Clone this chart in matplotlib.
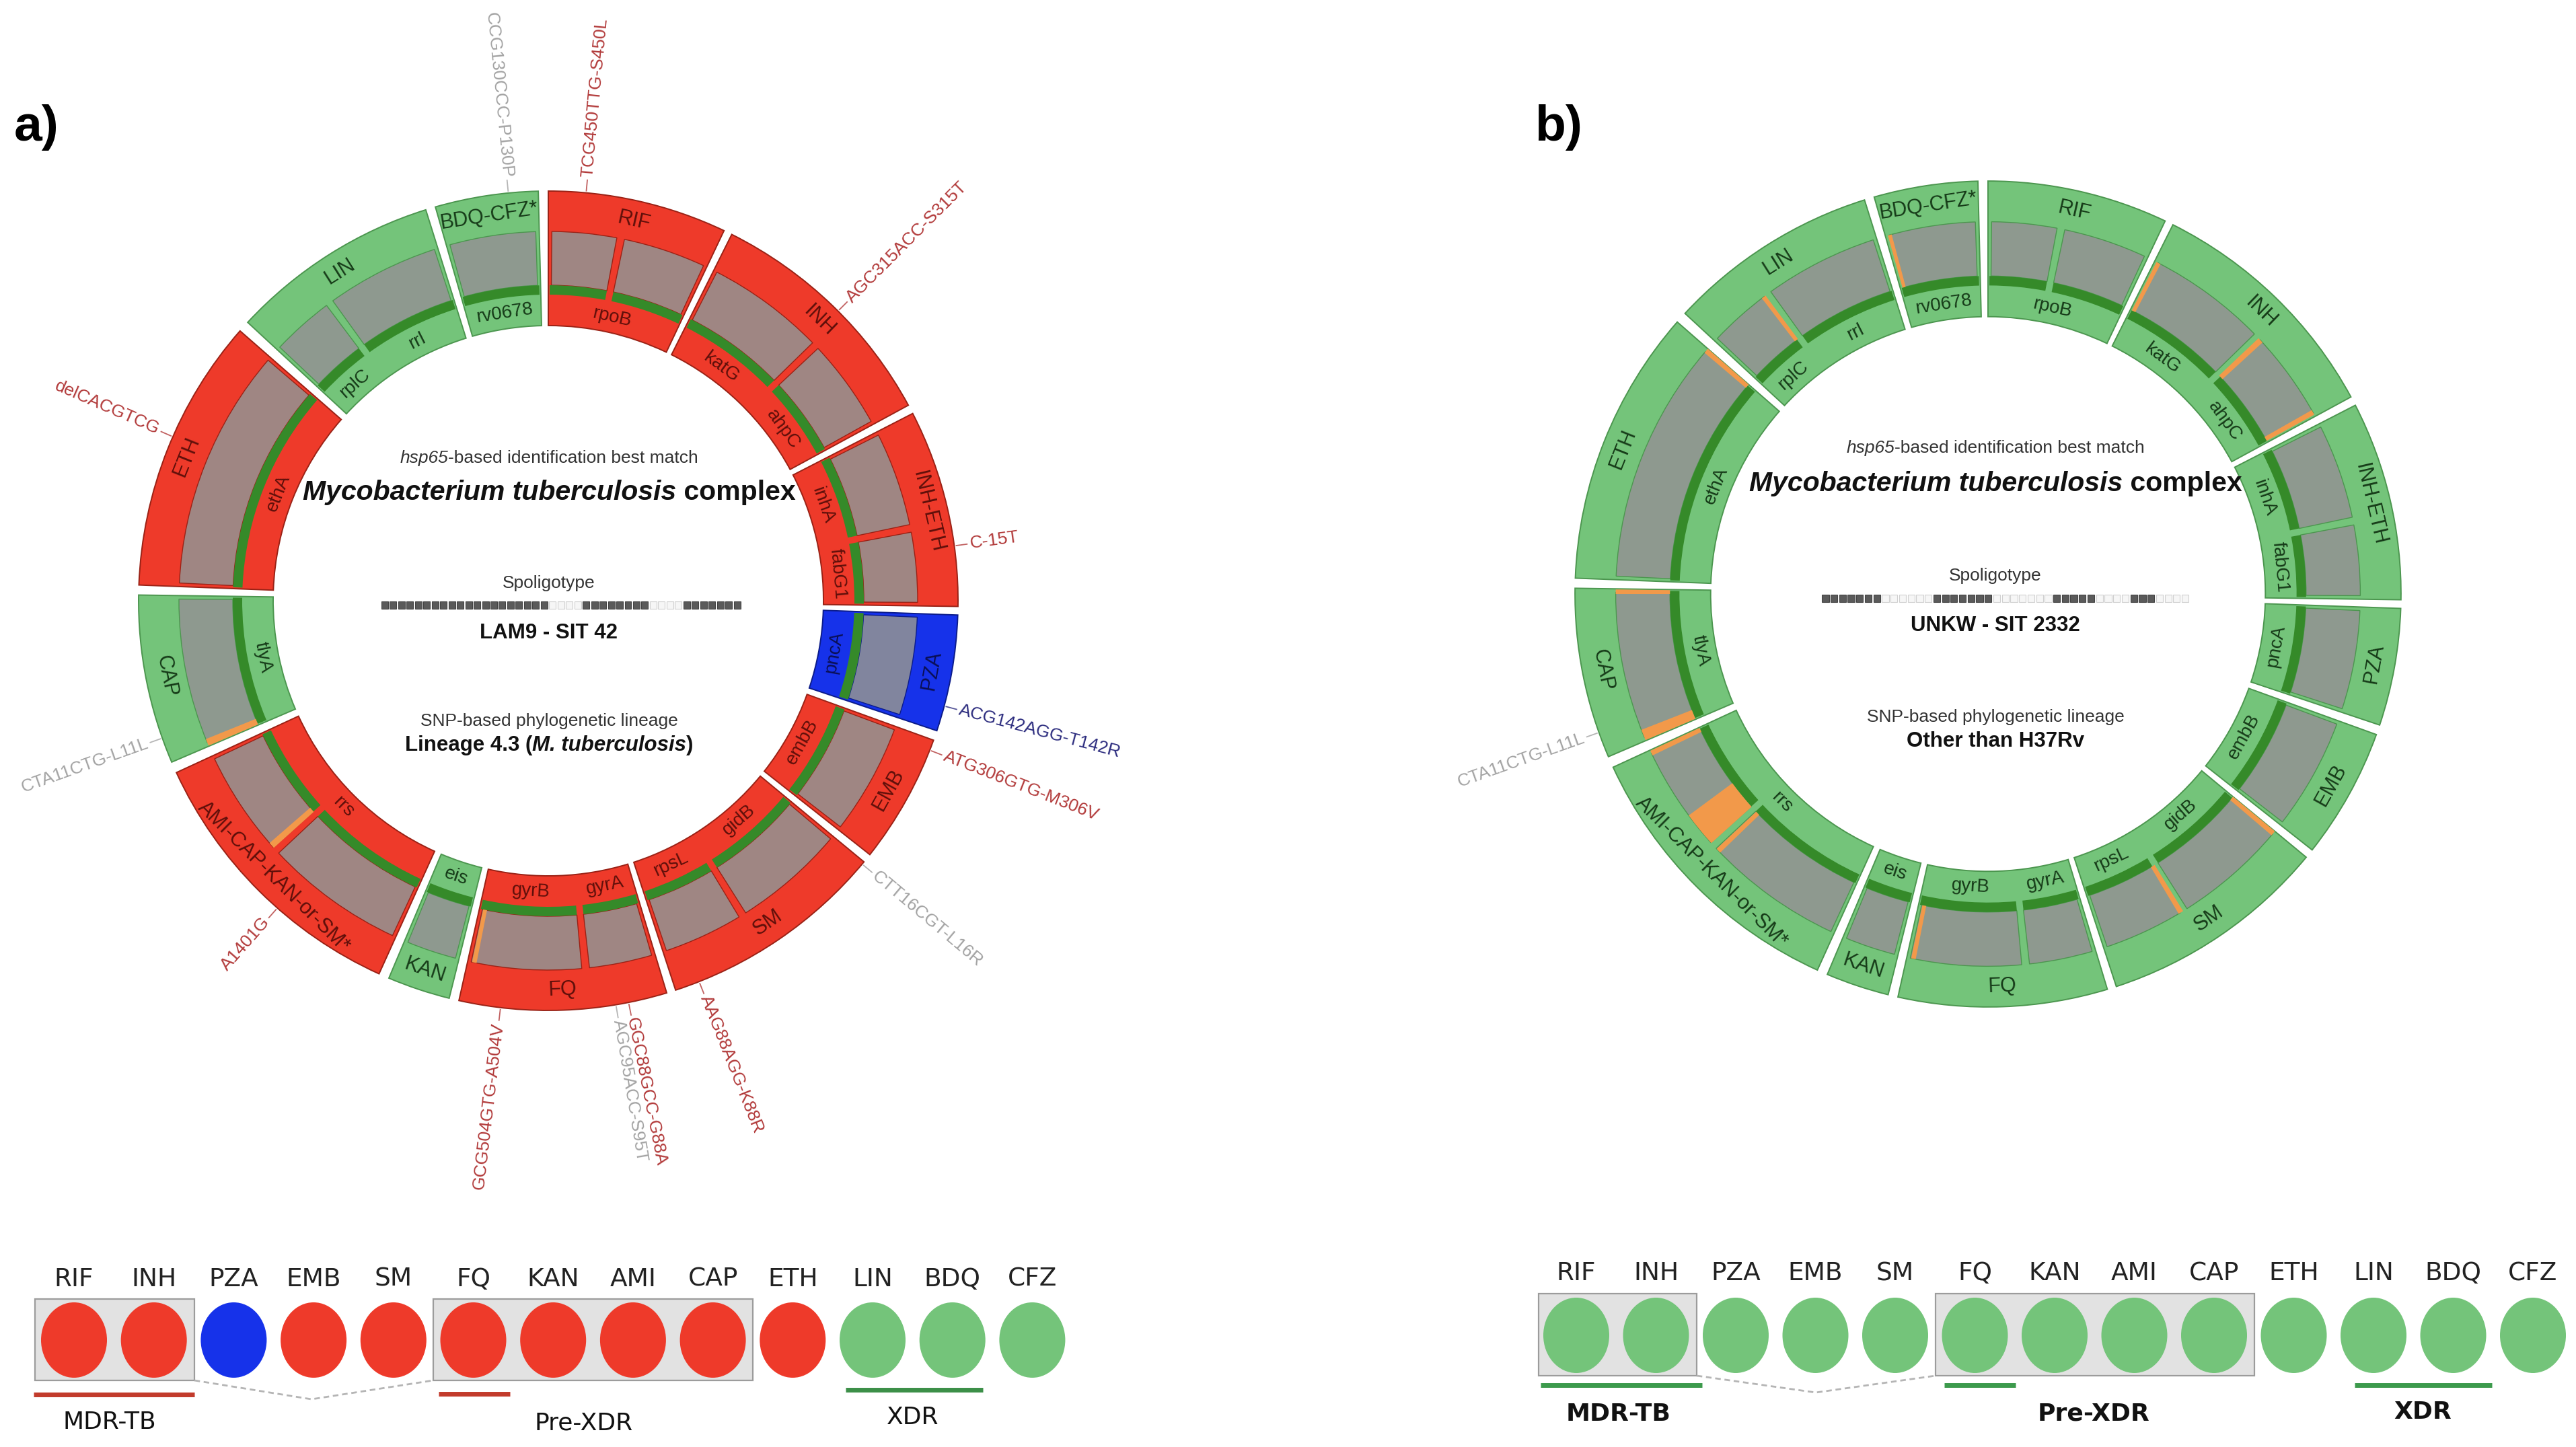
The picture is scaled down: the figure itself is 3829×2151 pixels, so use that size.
import numpy as np
import matplotlib
matplotlib.use("Agg")
import matplotlib.pyplot as plt
from matplotlib.patches import Wedge, Ellipse, Rectangle
from matplotlib.colors import to_rgb

W, H = 3830, 2151

RED = '#ee3a2a'
GREEN = '#74c47a'
BLUE = '#1632ea'
LINE_GREEN = '#358a29'
ORANGE = '#f2994a'
PALETTE = {'R': RED, 'G': GREEN, 'B': BLUE}
EDGE = {'R': '#9a2216', 'G': '#4c964f', 'B': '#0c1c8a'}
LABEL = {'R': '#5e0f0a', 'G': '#163a18', 'B': '#0a0f55'}

# ring segments, angles in degrees clockwise from 12 o'clock
drugs = ['RIF', 'INH', 'INH-ETH', 'PZA', 'EMB', 'SM', 'FQ', 'KAN',
         'AMI-CAP-KAN-or-SM*', 'CAP', 'ETH', 'LIN', 'BDQ-CFZ*']
drug_start = [0.0, 26.6, 62.8, 92.0, 109.9, 129.6, 163.2, 194.0, 204.4, 246.8, 272.2, 312.8, 344.0]
drug_end = [25.4, 61.5, 90.8, 108.5, 128.3, 161.9, 192.6, 202.9, 245.2, 270.8, 311.2, 342.6, 358.6]
genes = [['rpoB'], ['katG', 'ahpC'], ['inhA', 'fabG1'], ['pncA'], ['embB'], ['gidB', 'rpsL'],
         ['gyrA', 'gyrB'], ['eis'], ['rrs'], ['tlyA'], ['ethA'], ['rplC', 'rrl'], ['rv0678']]
splits = [[11.3], [46.3], [78.7], [], [], [148.3], [174.2], [], [227.5], [], [], [323.7], []]

status_a = ['R', 'R', 'R', 'B', 'R', 'R', 'R', 'G', 'R', 'G', 'R', 'G', 'G']
status_b = ['G'] * 13

orange_a = [(246.9, 248.0), (228.0, 229.0), (191.2, 191.9)]
orange_b = [(310.4, 311.2), (322.6, 323.3), (344.4, 345.0), (26.9, 27.6), (46.6, 47.5),
            (60.4, 61.2), (270.0, 270.7), (246.9, 248.6), (228.0, 233.5), (244.3, 245.1),
            (226.0, 226.8), (191.2, 191.9), (148.4, 149.2), (129.6, 130.4)]

mut_a = [(354.4, 'CCG130CCC-P130P', 'gray'), (5.3, 'TCG450TTG-S450L', 'red'),
         (45.0, 'AGC315ACC-S315T', 'red'), (82.3, 'C-15T', 'red'),
         (104.9, 'ACG142AGG-T142R', 'navy'), (111.4, 'ATG306GTG-M306V', 'red'),
         (130.0, 'CTT16CGT-L16R', 'gray'), (158.4, 'AAG88AGG-K88R', 'red'),
         (168.7, 'GGC88GCC-G88A', 'red'), (170.5, 'AGC95ACC-S95T', 'gray'),
         (186.7, 'GCG504GTG-A504V', 'red'), (221.4, 'A1401G', 'red'),
         (250.4, 'CTA11CTG-L11L', 'gray'), (293.6, 'delCACGTCG', 'red')]
mut_b = [(250.4, 'CTA11CTG-L11L', 'gray')]
MUT_COLOR = {'red': '#b23a3a', 'gray': '#a3a3a3', 'navy': '#2c2c7e'}

# spoligotype patterns (43 spacers)
spol_a = '1' * 20 + '0' * 4 + '1' * 8 + '0' * 4 + '1' * 7
spol_b = '1' * 7 + '0' * 6 + '1' * 7 + '0' * 7 + '1' * 5 + '0' * 4 + '1' * 3 + '0' * 4

# bottom legend
leg_names = ['RIF', 'INH', 'PZA', 'EMB', 'SM', 'FQ', 'KAN', 'AMI', 'CAP', 'ETH', 'LIN', 'BDQ', 'CFZ']
leg_a = ['R', 'R', 'B', 'R', 'R', 'R', 'R', 'R', 'R', 'R', 'G', 'G', 'G']
leg_b = ['G'] * 13

plt.rcParams['font.family'] = ['Liberation Sans', 'DejaVu Sans']

fig = plt.figure(figsize=(W / 100, H / 100), dpi=100)
ax = fig.add_axes([0, 0, 1, 1])
ax.set_xlim(0, W)
ax.set_ylim(H, 0)
ax.axis('off')


def blend(c1, c2, t):
    a = np.array(to_rgb(c1))
    b = np.array(to_rgb(c2))
    return tuple(a * (1 - t) + b * t)


def pol(cx, cy, r, th):
    t = np.radians(th)
    return cx + r * np.sin(t), cy - r * np.cos(t)


def sector(cx, cy, r_in, r_out, t1, t2, **kw):
    # y axis is inverted, so data angle th-90 runs clockwise from the top
    ax.add_patch(Wedge((cx, cy), r_out, t1 - 90, t2 - 90, width=r_out - r_in, **kw))


def tang_rot(th):
    th = th % 360
    return 180 - th if 90 < th < 270 else -th


def draw_ring(cx, cy, k, status, oranges, muts):
    R0, R1, R2, R3, R4 = [r * k for r in (609, 549, 469, 455, 409)]
    for i, name in enumerate(drugs):
        s, e = drug_start[i], drug_end[i]
        st = status[i]
        col = PALETTE[st]
        sector(cx, cy, R4, R0, s, e, fc=col, ec=EDGE[st], lw=1.4, zorder=2)
        cuts = [s] + splits[i] + [e]
        grey = blend('#929292', col, 0.14)
        for a, b in zip(cuts[:-1], cuts[1:]):
            pa = 0.55 if a == s else 0.6
            pb = 0.55 if b == e else 0.6
            sector(cx, cy, R2, R1, a + pa, b - pb, fc=grey, ec=EDGE[st], lw=1.0, zorder=3)
            sector(cx, cy, R3, R2, a + (0.25 if a == s else 0.6), b - (0.25 if b == e else 0.6),
                   fc=LINE_GREEN, ec='none', zorder=3)
        # drug label in the outer band
        mid = (s + e) / 2
        x, y = pol(cx, cy, (R0 + R1) / 2, mid)
        ax.text(x, y, name, fontsize=22, color=LABEL[st], rotation=tang_rot(mid),
                ha='center', va='center', rotation_mode='anchor', zorder=5)
        # gene labels in the inner band
        gcuts = [s] + (splits[i] if len(genes[i]) > 1 else []) + [e]
        for g, a, b in zip(genes[i], gcuts[:-1], gcuts[1:]):
            gm = (a + b) / 2
            x, y = pol(cx, cy, (R3 + R4) / 2, gm)
            ax.text(x, y, g, fontsize=20, color=LABEL[st], rotation=tang_rot(gm),
                    ha='center', va='center', rotation_mode='anchor', zorder=5)
    for a, b in oranges:
        sector(cx, cy, R2, R1, a, b, fc=ORANGE, ec='none', zorder=4)
    for th, txt, c in muts:
        x1, y1 = pol(cx, cy, R0 + 3, th)
        x2, y2 = pol(cx, cy, R0 + 19, th)
        ax.plot([x1, x2], [y1, y2], color=MUT_COLOR[c], lw=1.3, alpha=0.8, zorder=5)
        x, y = pol(cx, cy, R0 + 23, th)
        th = th % 360
        if th < 180:
            rot, ha = 90 - th, 'left'
        else:
            rot, ha = 270 - th, 'right'
        ax.text(x, y, txt, fontsize=19, color=MUT_COLOR[c], rotation=rot, ha=ha,
                va='center', rotation_mode='anchor', zorder=5)


def rich(x, y, parts, size, color='#111111'):
    r = fig.canvas.get_renderer()
    objs = []
    for s, style, weight in parts:
        objs.append(ax.text(0, y, s, fontsize=size, fontstyle=style, fontweight=weight,
                            ha='left', va='center', color=color, zorder=6))
    widths = [t.get_window_extent(r).width for t in objs]
    x0 = x - sum(widths) / 2
    for t, w in zip(objs, widths):
        t.set_x(x0)
        x0 += w


def spoligo(xc, y, pattern, pitch):
    n = len(pattern)
    x0 = xc - n * pitch / 2
    for i, p in enumerate(pattern):
        if p == '1':
            fc, ec = '#5a5a5a', '#444444'
        else:
            fc, ec = '#f6f6f6', '#d0d0d0'
        ax.add_patch(Rectangle((x0 + i * pitch + 1, y - 5.5), pitch - 2.5, 11,
                               fc=fc, ec=ec, lw=0.8, zorder=6))


def center_texts(xc, ys, spol, spol_x, pitch, sit, lineage):
    rich(xc, ys[0], [('hsp65', 'italic', 'normal'), ('-based identification best match', 'normal', 'normal')], 19, '#333333')
    rich(xc, ys[1], [('Mycobacterium tuberculosis', 'italic', 'bold'), (' complex', 'normal', 'bold')], 29.5)
    rich(xc, ys[2], [('Spoligotype', 'normal', 'normal')], 19, '#333333')
    spoligo(spol_x, ys[3], spol, pitch)
    rich(xc, ys[4], [(sit, 'normal', 'bold')], 22.5)
    rich(xc, ys[5], [('SNP-based phylogenetic lineage', 'normal', 'normal')], 19, '#333333')
    rich(xc, ys[6], lineage, 22.5)


def legend(x0, step, y_lab, y_circ, colors, boxes, box_y, vee, lines, groups, bold):
    fw = 'bold' if bold else 'normal'
    for (bx1, bx2) in boxes:
        ax.add_patch(Rectangle((bx1, box_y[0]), bx2 - bx1, box_y[1] - box_y[0],
                               fc='#e2e2e2', ec='#9c9c9c', lw=1.6, zorder=1))
    ax.plot(vee[0], vee[1], color='#b5b5b5', lw=2, ls=(0, (3, 2)), zorder=1)
    for i, (nm, st) in enumerate(zip(leg_names, colors)):
        x = x0 + i * step
        ax.text(x, y_lab, nm, fontsize=27, family='DejaVu Sans', color='#222222',
                ha='center', va='center')
        ax.add_patch(Ellipse((x, y_circ), 98, 112, fc=PALETTE[st], ec='none', zorder=2))
    for (lx1, lx2, ly, c) in lines:
        ax.plot([lx1, lx2], [ly, ly], color=c, lw=5, solid_capstyle='butt')
    for (tx, ty, txt) in groups:
        ax.text(tx, ty, txt, fontsize=26, family='DejaVu Sans', fontweight=fw,
                color='#111111', ha='center', va='center')


# panel a
draw_ring(815, 893, 1.0, status_a, orange_a, mut_a)
center_texts(816, [681, 732, 867, 899, 941, 1072, 1108], spol_a, 834, 12.47, 'LAM9 - SIT 42',
             [('Lineage 4.3 (', 'normal', 'bold'), ('M. tuberculosis', 'italic', 'bold'), (')', 'normal', 'bold')])
ax.text(54, 190, 'a)', fontsize=54, fontweight='bold', ha='center', va='center')

# panel b
draw_ring(2955, 883, 1.008, status_b, orange_b, mut_b)
center_texts(2966, [666, 719, 856, 889, 930, 1066, 1102], spol_b, 2981, 12.73, 'UNKW - SIT 2332',
             [('Other than H37Rv', 'normal', 'bold')])
ax.text(2316, 190, 'b)', fontsize=54, fontweight='bold', ha='center', va='center')

# legends
legend(110, 118.7, 1902, 1992, leg_a, [(52, 289), (644, 1119)], (1931, 2052),
       ([289, 463, 644], [2052, 2080, 2052]),
       [(50, 289, 2073, '#c23b2c'), (652, 758, 2072, '#c23b2c'), (1257, 1461, 2066, '#3c8f48')],
       [(163, 2114, 'MDR-TB'), (868, 2115, 'Pre-XDR'), (1357, 2107, 'XDR')], False)
legend(2343, 118.5, 1893, 1985, leg_b, [(2287, 2522), (2877, 3351)], (1923, 2045),
       ([2522, 2699, 2877], [2045, 2070, 2045]),
       [(2290, 2530, 2059, '#3c9a4c'), (2890, 2996, 2059, '#3c9a4c'), (3500, 3704, 2059, '#3c9a4c')],
       [(2406, 2102, 'MDR-TB'), (3112, 2102, 'Pre-XDR'), (3601, 2099, 'XDR')], True)

fig.savefig('out.png', dpi=100, facecolor='white')
